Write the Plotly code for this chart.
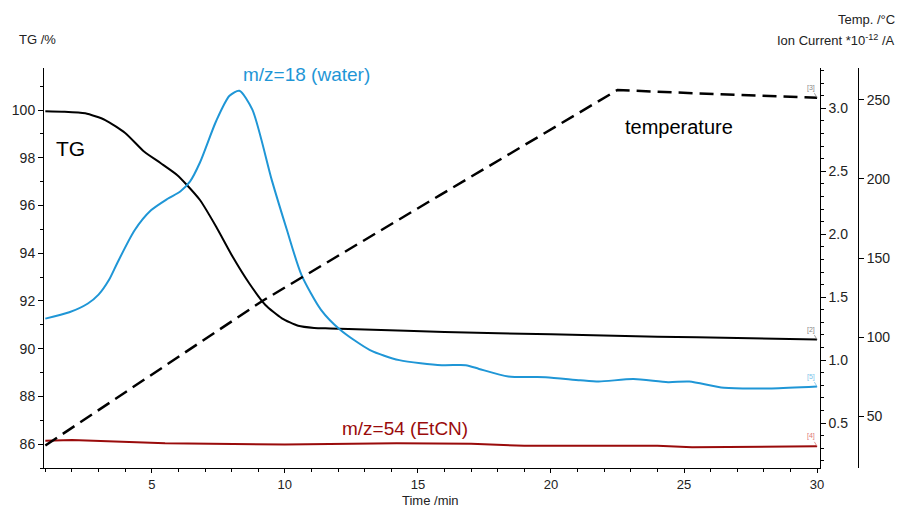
import plotly.graph_objects as go

# ---- data ----
tg_time = [1.0, 1.7, 2.5, 3.25, 4.0, 4.72, 5.34, 5.95, 6.32, 6.81, 7.42, 8.04, 8.66,
           9.27, 9.89, 10.5, 11.1, 11.7, 13.0, 16.0, 20.0, 24.0, 27.0, 30.0]
tg_pct = [99.95, 99.93, 99.86, 99.58, 99.04, 98.25, 97.77, 97.28, 96.86, 96.23, 95.11,
          93.85, 92.74, 91.83, 91.27, 90.96, 90.87, 90.85, 90.8, 90.7, 90.6, 90.5, 90.45, 90.38]

water_time = [1.0, 1.9, 2.6, 3.0, 3.4, 3.7, 4.35, 4.97, 5.58, 6.07, 6.44, 6.81, 7.42, 7.92,
              8.29, 8.78, 9.51, 10.07, 10.62, 11.36, 12.09, 13.2, 14.3,
              15.9, 16.8, 17.3, 18.4, 19.8, 21.1, 21.8, 23.1, 24.4, 25.2, 26.5, 28.3, 30.0]
water_ion = [1.33, 1.38, 1.45, 1.52, 1.64, 1.77, 2.03, 2.19, 2.28, 2.34, 2.42, 2.57, 2.9, 3.10,
             3.14, 2.99, 2.43, 2.04, 1.68, 1.40, 1.24, 1.08, 1.00,
             0.96, 0.96, 0.93, 0.87, 0.865, 0.84, 0.83, 0.85, 0.825, 0.83, 0.78, 0.775, 0.79]

etcn_time = [1.0, 2.0, 5.5, 9.3, 10.0, 14.2, 17.0, 19.0, 24.0, 25.3, 27.0, 30.0]
etcn_ion = [0.36, 0.365, 0.34, 0.335, 0.33, 0.34, 0.335, 0.32, 0.32, 0.307, 0.312, 0.315]

temp_time = [1.0, 9.14, 15.8, 22.5, 25.4, 30.0]
temp_c = [31.4, 122.7, 189.5, 256.3, 254.2, 251.4]

x_ticks = [5, 10, 15, 20, 25, 30]
tg_ticks = [86, 88, 90, 92, 94, 96, 98, 100]
ion_ticks = [0.5, 1.0, 1.5, 2.0, 2.5, 3.0]
temp_ticks = [50, 100, 150, 200, 250]

FONT = "Liberation Sans, Arial, sans-serif"
BLUE = "#1f96d6"
RED = "#9a0b0b"

fig = go.Figure()
fig.add_trace(go.Scatter(x=water_time, y=water_ion, yaxis="y2", mode="lines",
                         line=dict(color=BLUE, width=2, shape="spline", smoothing=0.7),
                         showlegend=False))
fig.add_trace(go.Scatter(x=etcn_time, y=etcn_ion, yaxis="y2", mode="lines",
                         line=dict(color=RED, width=2), showlegend=False))
fig.add_trace(go.Scatter(x=temp_time, y=temp_c, yaxis="y3", mode="lines",
                         line=dict(color="black", width=2.5, dash="14px,7px"),
                         showlegend=False))
fig.add_trace(go.Scatter(x=tg_time, y=tg_pct, yaxis="y", mode="lines",
                         line=dict(color="black", width=2, shape="spline", smoothing=0.6),
                         showlegend=False))

def axis_common(size=14, ticklen=5):
    return dict(showline=True, linecolor="black", linewidth=1, ticks="outside",
                ticklen=ticklen, tickcolor="black", showgrid=False, zeroline=False,
                tickfont=dict(family=FONT, size=size, color="#222"))

fig.update_layout(
    width=902, height=508,
    margin=dict(l=38, r=34, t=68, b=40),
    paper_bgcolor="white", plot_bgcolor="white",
    font=dict(family=FONT, color="#222"),
    xaxis=dict(range=[0.95, 30.1], domain=[0, 0.953], tickvals=x_ticks,
               minor=dict(dtick=1, tick0=0, ticks="outside", ticklen=3, tickcolor="black"),
               **axis_common(13, 4)),
    yaxis=dict(range=[85.0, 101.76], tickvals=tg_ticks,
               minor=dict(dtick=1, tick0=0, ticks="outside", ticklen=3, tickcolor="black"),
               **axis_common()),
    yaxis2=dict(range=[0.143, 3.321], overlaying="y", side="right", anchor="x",
                tickvals=ion_ticks, tickformat=".1f",
                minor=dict(dtick=0.1, tick0=0, ticks="outside", ticklen=3, tickcolor="black"),
                **axis_common()),
    yaxis3=dict(range=[17.2, 270.2], overlaying="y", side="right", anchor="free",
                position=1.0, tickvals=temp_ticks, **axis_common()),
)

ann = []
def label(text, x, y, color, size=19, xref="x", yref="y", xanchor="center"):
    ann.append(dict(text=text, x=x, y=y, xref=xref, yref=yref, showarrow=False,
                    xanchor=xanchor, yanchor="middle",
                    font=dict(family=FONT, size=size, color=color)))

label("TG", 1.95, 98.4, "black", size=21)
label("m/z=18 (water)", 10.8, 101.47, BLUE)
label("temperature", 24.8, 99.29, "black", size=20)
label("m/z=54 (EtCN)", 14.5, 86.67, RED)

label("TG /%", -0.033, 1.07, "#222", size=13, xref="paper", yref="paper", xanchor="left")
label("Temp. /°C", 1.048, 1.12, "#222", size=13, xref="paper", yref="paper", xanchor="right")
label("Ion Current *10<sup>-12</sup> /A", 1.048, 1.07, "#222", size=13,
      xref="paper", yref="paper", xanchor="right")
label("Time /min", 0.4747, -0.082, "#222", size=13, xref="paper", yref="paper")

# small curve tags at the right end
tags = [("[3]", temp_c[-1], "y3", "#888"), ("[2]", tg_pct[-1], "y", "#888"),
        ("[5]", water_ion[-1], "y2", "#7cc3ea"), ("[4]", etcn_ion[-1], "y2", "#d77")]
for txt, yv, yr, col in tags:
    ann.append(dict(text=txt, x=30.0, y=yv, xref="x", yref=yr, showarrow=True,
                    arrowhead=0, arrowwidth=0.8, arrowcolor=col, ax=-6, ay=-10,
                    font=dict(family=FONT, size=7, color=col)))

fig.update_layout(annotations=ann)
fig.write_html("out.html")
